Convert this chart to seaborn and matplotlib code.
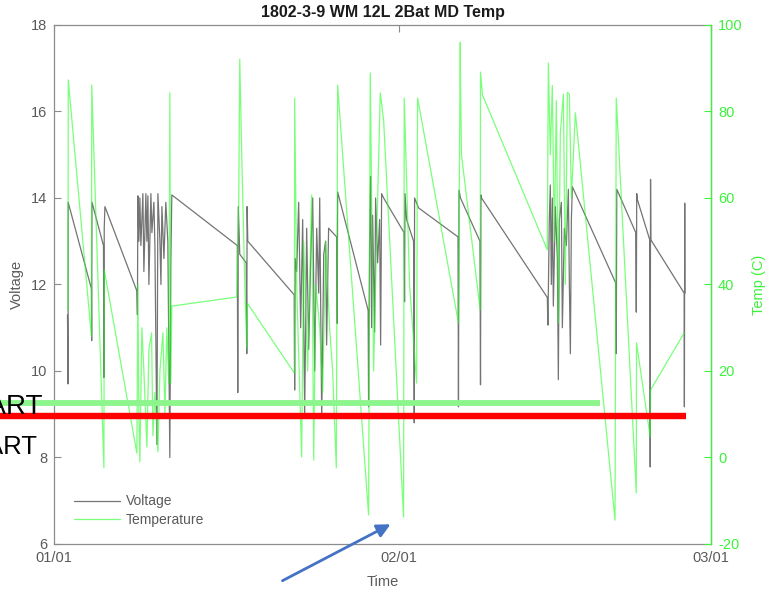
import pandas as pd
import matplotlib
matplotlib.use("Agg")
import matplotlib.pyplot as plt
import matplotlib.dates as mdates
import matplotlib.transforms as mtransforms
from matplotlib.patches import FancyArrowPatch
import seaborn as sns

# Battery voltage log (days since 1 Jan, volts)
volt_days = [1.21, 1.26, 1.27, 3.36, 3.38, 3.41, 4.44, 4.48, 4.51, 4.57,
             7.44, 7.49, 7.53, 7.62, 7.71, 7.80, 7.98, 8.07, 8.25, 8.34,
             8.43, 8.52, 8.70, 8.79, 8.97, 9.06, 9.24, 9.33, 9.51, 9.60,
             9.69, 9.87, 10.04, 10.22, 10.40, 10.49, 10.58, 16.46, 16.50, 16.55,
             16.68, 17.26, 17.31, 17.34, 17.40, 21.57, 21.61, 21.66, 21.79, 21.97,
             22.15, 22.33, 22.51, 22.69, 22.87, 23.05, 23.23, 23.41, 23.59, 23.77,
             23.86, 24.04, 24.22, 24.39, 24.48, 24.66, 25.38, 25.43, 25.47, 28.21,
             28.25, 28.34, 28.43, 28.52, 28.61, 28.79, 28.88, 29.06, 29.24, 29.33,
             29.42, 29.60, 31.43, 31.48, 31.52, 31.66, 32.29, 32.35, 32.38, 32.74,
             36.28, 36.32, 36.37, 36.50, 38.25, 38.30, 38.34, 38.39, 44.30, 44.35,
             44.48, 44.57, 44.66, 44.75, 44.84, 45.02, 45.20, 45.29, 45.38, 45.56,
             45.65, 45.83, 46.01, 46.19, 46.28, 46.37, 46.46, 46.55, 50.45, 50.49,
             50.54, 52.24, 52.29, 52.33, 52.38, 53.50, 53.54, 53.57, 53.60, 56.59,
             56.61, 56.64, 56.66]
volt_values = [11.3, 9.7, 13.9, 11.9, 10.7, 13.9, 12.9, 9.85, 13.3, 13.8,
               11.85, 11.3, 14.05, 13.0, 14.0, 12.9, 14.1, 12.3, 14.1, 13.0,
               14.05, 12.0, 14.1, 13.2, 13.9, 12.9, 8.3, 14.1, 13.0, 12.0,
               13.8, 12.6, 13.9, 13.0, 8.0, 12.5, 14.07, 12.9, 9.5, 13.8,
               12.7, 12.5, 10.4, 13.8, 13.0, 11.76, 9.56, 12.6, 12.3, 13.9,
               11.0, 13.5, 9.0, 13.3, 10.5, 12.6, 14.0, 10.0, 13.3, 11.8,
               14.0, 8.9, 12.7, 13.0, 10.6, 13.3, 13.1, 11.1, 14.14, 11.4,
               9.17, 13.0, 14.5, 11.0, 13.6, 10.9, 14.0, 12.5, 13.5, 10.6,
               14.1, 14.0, 13.2, 11.6, 14.1, 13.5, 13.0, 8.8, 14.0, 13.77,
               13.1, 9.17, 14.18, 14.0, 13.0, 9.68, 14.07, 14.0, 11.7, 11.06,
               13.5, 14.3, 12.0, 14.0, 11.5, 13.8, 12.6, 9.8, 13.5, 13.9,
               11.0, 13.3, 12.9, 14.2, 12.0, 10.4, 13.5, 14.26, 12.03, 10.4,
               14.2, 13.2, 11.36, 14.1, 13.97, 13.03, 7.78, 14.43, 13.03, 11.8,
               9.17, 13.88, 11.8]

# Temperature log (days since 1 Jan, deg C)
temp_days = [1.26, 1.28, 3.36, 3.39, 4.48, 4.51, 7.44, 7.53, 7.62, 7.71,
             7.89, 8.07, 8.34, 8.52, 8.76, 8.88, 9.06, 9.33, 9.51, 9.78,
             9.96, 10.13, 10.31, 10.40, 10.49, 10.58, 16.41, 16.59, 16.68, 16.86,
             17.13, 17.31, 17.35, 21.59, 21.61, 21.79, 22.24, 22.42, 22.78, 23.14,
             23.32, 23.50, 23.86, 24.13, 24.39, 24.75, 25.02, 25.35, 25.47, 28.25,
             28.40, 28.52, 28.70, 28.97, 29.30, 29.60, 31.39, 31.45, 31.93, 32.56,
             32.65, 36.32, 36.48, 36.50, 36.59, 38.27, 38.30, 38.48, 44.30, 44.39,
             44.57, 44.75, 44.93, 45.11, 45.29, 45.47, 45.74, 45.92, 46.10, 46.28,
             46.46, 46.82, 50.38, 50.49, 52.29, 52.31, 53.54, 53.57, 56.59]
temp_values = [34.1, 87.3, 28.0, 86.1, -2.4, 43.4, 1.0, 40.0, 10.0, -1.0,
               30.0, 20.0, 2.4, 25.0, 28.8, 5.0, 15.0, 1.3, 20.0, 28.8,
               10.0, 30.0, 17.0, 84.3, 17.2, 35.0, 37.1, 60.0, 92.1, 70.0,
               40.0, 25.3, 35.7, 19.5, 83.1, 40.0, 0.1, 50.0, 20.0, 60.7,
               -0.6, 40.0, 30.0, 15.0, 50.0, 30.0, 20.0, -2.4, 86.1, -13.3,
               88.9, 60.0, 20.0, 50.0, 84.3, 78.0, -13.8, 83.1, 40.0, 17.2,
               83.1, 31.1, 96.0, 88.0, 70.0, 34.1, 89.1, 83.8, 48.0, 91.2,
               70.0, 86.0, 50.0, 82.5, 31.1, 75.0, 84.0, 40.0, 84.4, 84.0,
               60.0, 79.7, -14.5, 83.1, -8.2, 26.5, 4.7, 15.6, 28.8]

start_date = "2018-01-01"
end_date = "2018-03-01"
x_tick_dates = ["2018-01-01", "2018-02-01", "2018-03-01"]
volt_ticks = [6, 8, 10, 12, 14, 16, 18]
temp_ticks = [-20, 0, 20, 40, 60, 80, 100]
title_text = "1802-3-9 WM 12L 2Bat MD Temp"

# Start thresholds marked across the voltage axis
green_start_level = 9.25
red_start_level = 8.95

assert len(volt_days) == len(volt_values)
assert len(temp_days) == len(temp_values)

sns.set_theme(style="white")
plt.rcParams["font.family"] = ["Liberation Sans", "DejaVu Sans"]
plt.rcParams["axes.unicode_minus"] = False

GRAY = "#5a5a5a"
SPINE = "#8c8c8c"
GREEN = "#3cf23c"

t0 = pd.Timestamp(start_date)
volt_df = pd.DataFrame({"Time": t0 + pd.to_timedelta(volt_days, unit="D"),
                        "Voltage": volt_values})
temp_df = pd.DataFrame({"Time": t0 + pd.to_timedelta(temp_days, unit="D"),
                        "Temp": temp_values})

fig = plt.figure(figsize=(7.84, 5.90), dpi=100)
ax = fig.add_axes([0.0689, 0.078, 0.838, 0.8797])
ax2 = ax.twinx()

sns.lineplot(data=volt_df, x="Time", y="Voltage", ax=ax, color="#2a2a2a",
             alpha=0.65, linewidth=0.9, estimator=None, sort=False, legend=False)
sns.lineplot(data=temp_df, x="Time", y="Temp", ax=ax2, color="#22ff22",
             alpha=0.6, linewidth=0.9, estimator=None, sort=False, legend=False)

ax.set_xlim(t0, pd.Timestamp(end_date))
ax.set_ylim(6, 18)
ax2.set_ylim(-20, 100)
ax.set_xticks(pd.to_datetime(x_tick_dates))
ax.xaxis.set_major_formatter(mdates.DateFormatter("%m/%d"))
ax.set_yticks(volt_ticks)
ax2.set_yticks(temp_ticks)

ax.tick_params(axis="both", direction="in", length=5, width=0.8, color=SPINE,
               labelcolor=GRAY, labelsize=10.5, pad=5)
ax.tick_params(axis="x", top=True)
ax.tick_params(axis="y", right=False)
ax2.tick_params(axis="y", direction="in", length=5, width=0.8, color=GREEN,
                labelcolor=GREEN, labelsize=10.5, pad=5)

for side in ["left", "bottom", "top", "right"]:
    ax.spines[side].set_color(SPINE)
    ax.spines[side].set_linewidth(0.9)
for side in ["left", "bottom", "top"]:
    ax2.spines[side].set_visible(False)
ax2.spines["right"].set_color(GREEN)
ax2.spines["right"].set_linewidth(0.9)

ax.set_xlabel("Time", color=GRAY, fontsize=10.5, labelpad=7)
ax.set_ylabel("Voltage", color=GRAY, fontsize=10.5, labelpad=5)
ax2.set_ylabel("Temp (C)", color=GREEN, fontsize=10.5, labelpad=7)
ax.set_title(title_text, fontsize=11.5, fontweight="bold", color="#1a1a1a", pad=6)
ax.grid(False)

ax2.legend(handles=[ax.lines[0], ax2.lines[0]], labels=["Voltage", "Temperature"],
           loc="lower left", bbox_to_anchor=(0.012, 0.008), frameon=False,
           fontsize=10, labelcolor=GRAY, handlelength=3.3, handletextpad=0.4,
           labelspacing=0.35)

# Threshold bars: x in axes fraction, y in volts
bar_tf = mtransforms.blended_transform_factory(ax.transAxes, ax.transData)
ax2.plot([-0.09, 0.831], [green_start_level] * 2, transform=bar_tf,
         color="#8cf58c", linewidth=4.2, solid_capstyle="butt", clip_on=False, zorder=10)
ax2.plot([-0.09, 0.962], [red_start_level] * 2, transform=bar_tf,
         color="#ff0000", linewidth=4.6, solid_capstyle="butt", clip_on=False, zorder=11)

fig.text(43 / 784, 1 - 414 / 590, "START", ha="right", va="baseline",
         fontsize=20, color="black")
fig.text(38 / 784, 1 - 454 / 590, "START", ha="right", va="baseline",
         fontsize=18.5, color="black")

arrow = FancyArrowPatch((280 / 784, 1 - 582 / 590), (393 / 784, 1 - 523 / 590),
                        transform=fig.transFigure, arrowstyle="-|>",
                        mutation_scale=20, color="#4472c4", linewidth=2)
fig.add_artist(arrow)

fig.savefig("out.png", dpi=100)
